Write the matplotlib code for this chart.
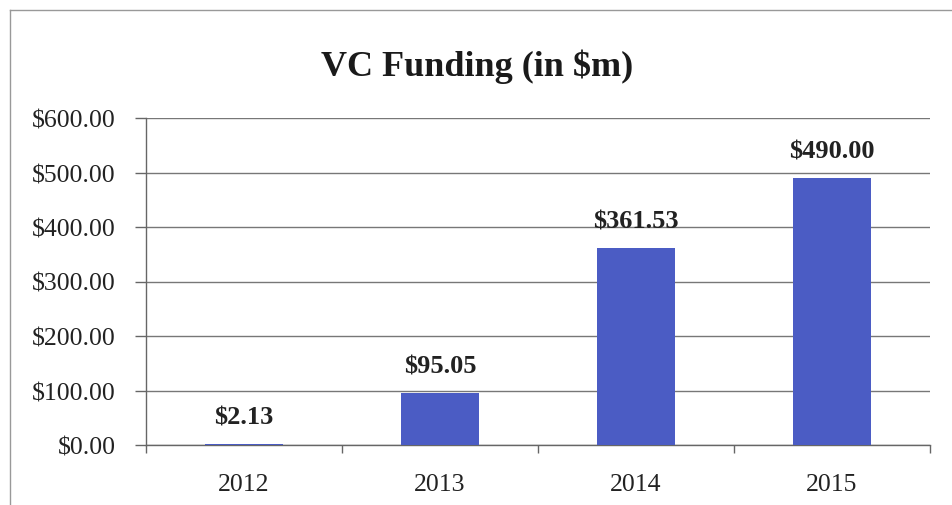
import matplotlib
matplotlib.use("Agg")
import matplotlib.pyplot as plt
from matplotlib.lines import Line2D

years = ["2012", "2013", "2014", "2015"]
funding = [2.13, 95.05, 361.53, 490.00]
labels = ["$2.13", "$95.05", "$361.53", "$490.00"]
yticks = [0, 100, 200, 300, 400, 500, 600]
ytick_labels = ["$0.00", "$100.00", "$200.00", "$300.00", "$400.00", "$500.00", "$600.00"]

plt.rcParams['font.family'] = ['Liberation Serif', 'DejaVu Serif']

fig = plt.figure(figsize=(9.53, 5.06), dpi=100)
ax = fig.add_axes([146/953, 1-446/506, (930-146)/953, (446-119)/506])

x = list(range(len(years)))
ax.bar(x, funding, width=0.40, color="#4B5CC4", zorder=3)

ax.set_xlim(-0.5, 3.5)
ax.set_ylim(0, 600)
ax.set_yticks(yticks)
ax.set_yticklabels(ytick_labels, fontsize=18.5, color="#222222")
ax.set_xticks(x)
ax.set_xticklabels(years, fontsize=18.5, color="#222222")
ax.set_xticks([i - 0.5 for i in range(len(years) + 1)], minor=True)
ax.tick_params(axis='x', which='major', length=0, pad=20)
ax.tick_params(axis='x', which='minor', length=6, width=1, color="#666666", direction='out')
ax.tick_params(axis='y', length=8, width=1, color="#666666", pad=14)

ax.grid(axis='y', color="#777777", linewidth=1.0, zorder=0)
for s in ['top', 'right']:
    ax.spines[s].set_visible(False)
for s in ['left', 'bottom']:
    ax.spines[s].set_color("#666666")
    ax.spines[s].set_linewidth(1.0)

for xi, v, lab in zip(x, funding, labels):
    ax.annotate(lab, (xi, v), xytext=(0, 19.5), textcoords='offset points',
                ha='center', va='center', fontsize=19, fontweight='bold', color="#222222")

fig.text(477/953, 1-67/506, "VC Funding (in $m)", ha='center', va='center',
         fontsize=26, fontweight='bold', color="#1a1a1a")

# outer chart border (top and left visible)
fig.add_artist(Line2D([10/953, 10/953], [0, 1-11/506], transform=fig.transFigure,
                      color="#999999", linewidth=1.0))
fig.add_artist(Line2D([10/953, 1], [1-11/506, 1-11/506], transform=fig.transFigure,
                      color="#999999", linewidth=1.0))

fig.savefig("out.png", dpi=100)
